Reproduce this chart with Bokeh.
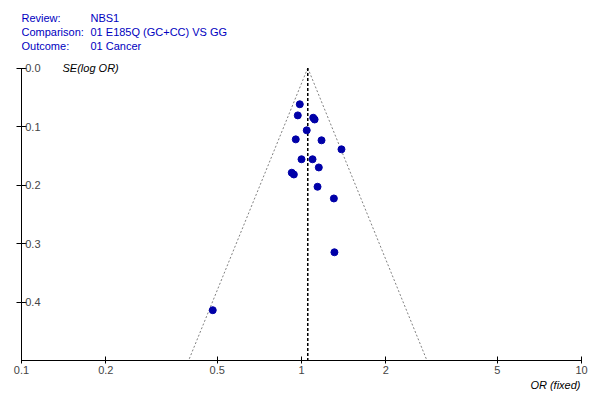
import numpy as np
from bokeh.plotting import figure
from bokeh.models import Range1d, FixedTicker, Label, ColumnDataSource, Title
from bokeh.embed import file_html
from bokeh.resources import INLINE

# ---- data ----
header_keys = ["Review:", "Comparison:", "Outcome:"]
header_vals = ["NBS1", "01 E185Q (GC+CC) VS GG", "01 Cancer"]

odds_ratio = [0.986, 0.970, 1.101, 1.114, 1.044, 0.954, 1.179, 1.389, 1.000,
              1.095, 1.153, 0.923, 0.939, 1.141, 1.305, 1.311, 0.482]
se_log_or = [0.062, 0.081, 0.085, 0.088, 0.1065, 0.122, 0.1236, 0.139, 0.156,
             0.156, 0.170, 0.179, 0.182, 0.203, 0.223, 0.315, 0.414]
pooled_or = 1.053

x_ticks = [0.1, 0.2, 0.5, 1, 2, 5, 10]
x_tick_labels = ["0.1", "0.2", "0.5", "1", "2", "5", "10"]
y_ticks = [0.0, 0.1, 0.2, 0.3, 0.4]
y_tick_labels = ["0.0", "0.1", "0.2", "0.3", "0.4"]
se_max = 0.5

FONT = "Liberation Sans"
BLUE_TXT = "#0000C0"
PT = "#0000A8"

# frame spans from the canvas top down to the x axis; the SE scale is
# 58.5 px per 0.1 and SE=0 sits 67.5 px below the top (room for the header)
frame_h = 360
px_per_unit = 585.0
y_top = se_max - frame_h / px_per_unit

p = figure(width=592, height=396, x_axis_type="log",
           x_range=Range1d(0.1, 10), y_range=Range1d(se_max, y_top),
           output_backend="svg", toolbar_location=None,
           min_border_left=21, min_border_right=11,
           min_border_top=0, min_border_bottom=36)
p.grid.visible = False
p.outline_line_color = None
p.background_fill_color = "white"
p.border_fill_color = "white"

# x axis
xa = p.xaxis[0]
xa.ticker = FixedTicker(ticks=x_ticks, minor_ticks=[])
xa.major_label_overrides = {t: l for t, l in zip(x_ticks, x_tick_labels)}
xa.major_tick_in = 4
xa.major_tick_out = 3
xa.minor_tick_line_color = None
xa.major_label_standoff = 2
xa.major_label_text_font = FONT
xa.major_label_text_font_size = "11px"
xa.axis_line_color = "black"

# x axis title, right aligned under the axis
p.add_layout(Title(text="OR (fixed)", align="right", standoff=0, offset=1,
                   text_font=FONT, text_font_size="11px",
                   text_font_style="italic", text_color="black"), "below")

# y axis: labels drawn to the right of the axis line
ya = p.yaxis[0]
ya.ticker = FixedTicker(ticks=y_ticks, minor_ticks=[])
ya.major_label_overrides = {t: l for t, l in zip(y_ticks, y_tick_labels)}
ya.bounds = (0.0, se_max)
ya.major_tick_in = 5
ya.major_tick_out = 5
ya.minor_tick_line_color = None
ya.major_label_standoff = -24
ya.major_label_text_font = FONT
ya.major_label_text_font_size = "11px"

# funnel
se_lim = np.array([0.0, se_max])
p.line([pooled_or, pooled_or * np.exp(-1.96 * se_lim[1])], list(se_lim),
       line_color="#808080", line_dash="2 2", line_width=1)
p.line([pooled_or, pooled_or * np.exp(1.96 * se_lim[1])], list(se_lim),
       line_color="#808080", line_dash="2 2", line_width=1)
p.line([pooled_or, pooled_or], list(se_lim), line_color="black",
       line_dash="3 2", line_width=1.5)

src = ColumnDataSource(dict(x=odds_ratio, y=se_log_or))
p.scatter("x", "y", source=src, size=7, fill_color=PT, line_color=PT)

# header
offs = [50, 36, 22]
for k, v, o in zip(header_keys, header_vals, offs):
    p.add_layout(Label(x=0.1, y=0.0, x_offset=0, y_offset=o, text=k,
                       text_font=FONT, text_font_size="11px",
                       text_color=BLUE_TXT, text_baseline="middle"))
    p.add_layout(Label(x=0.1, y=0.0, x_offset=69, y_offset=o, text=v,
                       text_font=FONT, text_font_size="11px",
                       text_color=BLUE_TXT, text_baseline="middle"))

p.add_layout(Label(x=0.1, y=0.0, x_offset=41, y_offset=0, text="SE(log OR)",
                   text_font=FONT, text_font_size="11px", text_font_style="italic",
                   text_color="black", text_baseline="middle"))

open("out.html", "w").write(file_html(p, INLINE))
